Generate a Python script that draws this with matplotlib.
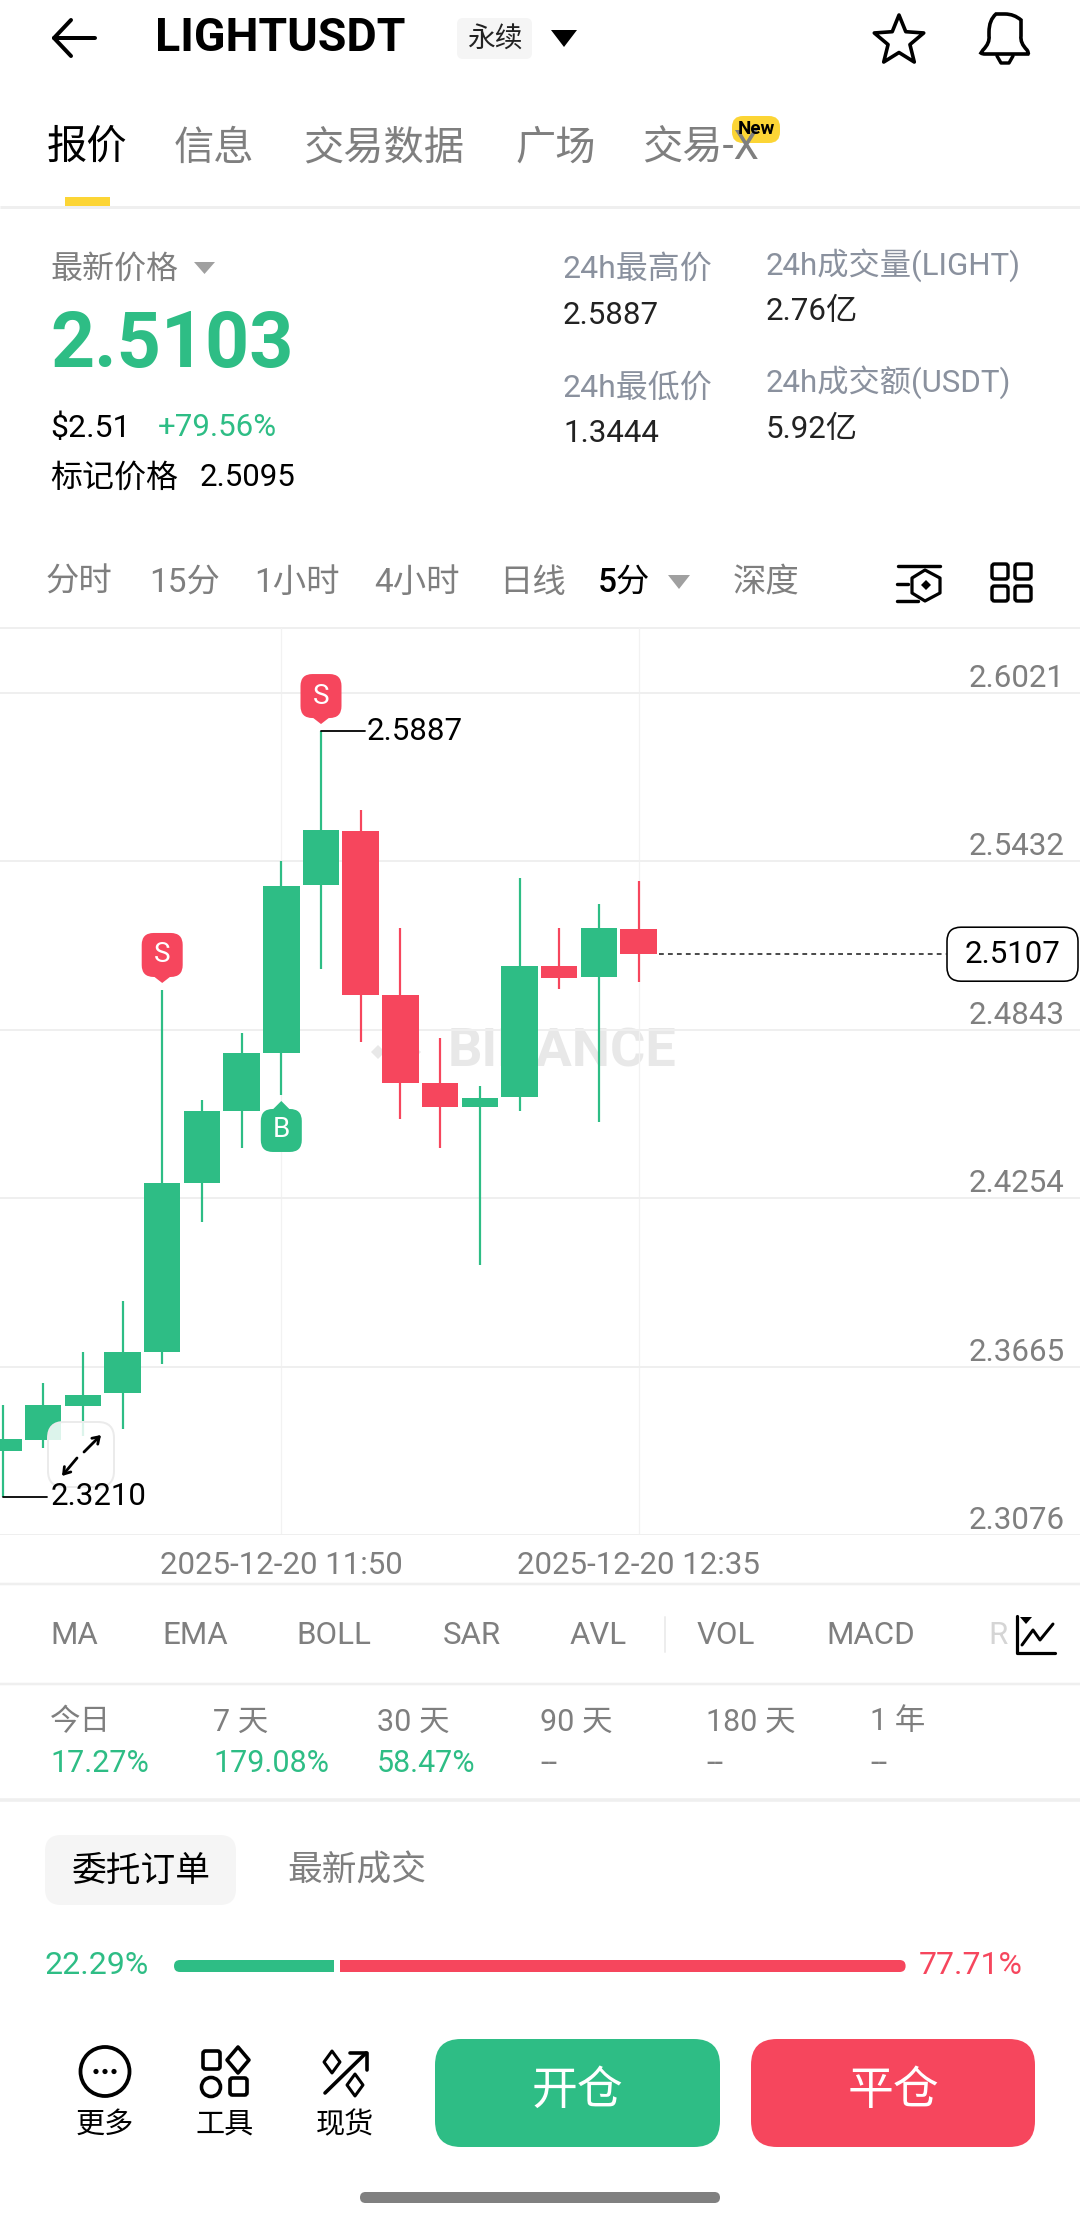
import numpy as np
import matplotlib
matplotlib.use("Agg")
import matplotlib.pyplot as plt
from matplotlib.patches import FancyBboxPatch, Polygon, Circle, Rectangle, PathPatch
from matplotlib.path import Path

# ---------- data ----------
opens  = [2.3369, 2.3409, 2.3529, 2.3572, 2.3718, 2.4308, 2.4560, 2.4763, 2.5349, 2.5538, 2.4963, 2.4657, 2.4572, 2.4607, 2.5067, 2.5027, 2.5196]
highs  = [2.3531, 2.3607, 2.3718, 2.3896, 2.4982, 2.4597, 2.4833, 2.5432, 2.5887, 2.5611, 2.5198, 2.4815, 2.4647, 2.5372, 2.5198, 2.5284, 2.5363]
lows   = [2.3210, 2.3382, 2.3423, 2.3446, 2.3675, 2.4171, 2.4429, 2.4615, 2.5056, 2.4799, 2.4530, 2.4429, 2.4020, 2.4560, 2.4984, 2.4519, 2.5011]
closes = [2.3411, 2.3530, 2.3567, 2.3717, 2.4306, 2.4559, 2.4761, 2.5344, 2.5540, 2.4964, 2.4658, 2.4574, 2.4604, 2.5067, 2.5023, 2.5198, 2.5107]
y_ticks = [2.6021, 2.5432, 2.4843, 2.4254, 2.3665, 2.3076]
x_tick_idx = [7, 16]
x_tick_labels = ["2025-12-20 11:50", "2025-12-20 12:35"]
sell_marks = [4, 8]
buy_marks = [7]
period_labels = ["今日", "7 天", "30 天", "90 天", "180 天", "1 年"]
period_values = ["17.27%", "179.08%", "58.47%", "--", "--", "--"]
indicators = ["MA", "EMA", "BOLL", "SAR", "AVL", "VOL", "MACD"]
buy_ratio, sell_ratio = 22.29, 77.71

GREEN, RED = "#2EBD85", "#F6465D"
GRAY, GRAY2, LINE = "#7F7F7F", "#8A919E", "#EFEFEF"
FONT = ["Roboto", "Noto Sans CJK SC"]
plt.rcParams["font.family"] = FONT

W, H = 1080, 2224
fig = plt.figure(figsize=(W / 100, H / 100), dpi=100, facecolor="white")
PX = 0.72  # points per pixel


def full_axes(z):
    a = fig.add_axes([0, 0, 1, 1], zorder=z)
    a.set_xlim(0, W)
    a.set_ylim(H, 0)
    a.axis("off")
    return a


bg = full_axes(0)
ui = full_axes(2)


def T(x, y, s, size=23, color="black", ha="left", weight="normal", ax=ui, **kw):
    return ax.text(x, y, s, fontsize=size, color=color, ha=ha, va="center", fontweight=weight, **kw)


def RR(x0, y0, x1, y1, r, fc, ec="none", lw=0, ax=ui, **kw):
    p = FancyBboxPatch((x0, y0), x1 - x0, y1 - y0, boxstyle=f"round,pad=0,rounding_size={r}",
                       fc=fc, ec=ec, lw=lw * PX, **kw)
    ax.add_patch(p)
    return p


def PL(xs, ys, lw=3, color="black", ax=ui, **kw):
    ax.plot(xs, ys, color=color, lw=lw * PX, solid_capstyle="round", solid_joinstyle="round", **kw)


def SEP(y, lw=3):
    bg.plot([0, W], [y, y], color=LINE, lw=lw * PX, solid_capstyle="butt")


# ---------- chart ----------
CH_TOP, CH_BOT = 628.0, 1535.3
ax = fig.add_axes([0, 1 - CH_BOT / H, 1, (CH_BOT - CH_TOP) / H], zorder=1)
ax.patch.set_alpha(0)
step = 39.7
x0 = 3.4
ax.set_xlim(-x0 / step, (W - x0) / step)
ppu = (1535.3 - 692.7) / (y_ticks[0] - y_ticks[-1])
ax.set_ylim(y_ticks[-1], y_ticks[0] + (692.7 - CH_TOP) / ppu)
for s in ax.spines.values():
    s.set_visible(False)
ax.yaxis.tick_right()
ax.set_yticks(y_ticks)
ax.set_yticklabels([f"{v:.4f}" for v in y_ticks])
ax.tick_params(axis="y", length=0, pad=-11, labelsize=22.5, labelcolor=GRAY)
for lb in ax.get_yticklabels():
    lb.set_ha("right")
    lb.set_va("bottom")
ax.set_xticks(x_tick_idx)
ax.set_xticklabels(x_tick_labels)
ax.tick_params(axis="x", length=0, pad=11, labelsize=22.5, labelcolor=GRAY)
ax.grid(axis="y", color=LINE, lw=2 * PX)
ax.grid(axis="x", color="#F2F2F2", lw=1.3 * PX)
ax.set_axisbelow(True)

idx = np.arange(len(opens))
o, h, l, c = map(np.array, (opens, highs, lows, closes))
cols = [GREEN if ci >= oi else RED for oi, ci in zip(o, c)]
ax.vlines(idx, l, h, colors=cols, lw=2.2 * PX, zorder=3)
ax.bar(idx, np.abs(c - o), bottom=np.minimum(o, c), width=0.92, color=cols, zorder=4)

fig.canvas.draw()


def to_ui(i, p):
    return ui.transData.inverted().transform(ax.transData.transform((i, p)))


# watermark
T(448, 1052, "BINANCE", size=39, color="#E8E8E8", weight="bold", ax=bg)
for cx, cy, r in [(396, 1052, 10), (378, 1052, 7), (414, 1052, 7), (396, 1032, 7), (396, 1072, 7)]:
    bg.add_patch(Polygon([(cx - r, cy), (cx, cy - r), (cx + r, cy), (cx, cy + r)], fc="#E8E8E8", ec="none"))

# S / B pins
for i in sell_marks:
    px, py = to_ui(i, highs[i])
    ui.add_patch(Polygon([(px - 9, py - 14), (px + 9, py - 14), (px, py - 7)], fc=RED, ec="none", zorder=5))
    RR(px - 20.5, py - 57, px + 20.5, py - 13, 12, RED, zorder=5)
    T(px, py - 35, "S", size=20, color="white", ha="center", zorder=6)
for i in buy_marks:
    px, py = to_ui(i, lows[i])
    ui.add_patch(Polygon([(px - 9, py + 15), (px + 9, py + 15), (px, py + 6)], fc=GREEN, ec="none", zorder=5))
    RR(px - 20.5, py + 14, px + 20.5, py + 57, 12, GREEN, zorder=5)
    T(px, py + 35, "B", size=20, color="white", ha="center", zorder=6)

# extreme labels
ih = int(np.argmax(h))
px, py = to_ui(ih, h[ih])
PL([px, px + 44], [py, py], lw=1.8)
T(px + 46, py, f"{h[ih]:.4f}", size=22.5)
il = int(np.argmin(l))
px, py = to_ui(il, l[il])
PL([px, px + 44], [py, py], lw=1.8)
T(px + 47, py, f"{l[il]:.4f}", size=22.5)

# last price
px, py = to_ui(len(c) - 1, c[-1])
ui.plot([px + 20, 947], [py, py], color="#222222", lw=1.6 * PX, dashes=(3, 2.6))
RR(947, py - 27, 1078, py + 27, 14, "white", ec="black", lw=1.6)
T(1012.5, py, f"{c[-1]:.4f}", size=22.5, ha="center")

# expand button
RR(48, 1422, 114, 1487, 16, (1, 1, 1, 0.84), ec="#EBEBEB", lw=2)
for (a, b) in [((77, 1458), (62, 1476)), ((84, 1452), (101, 1435))]:
    ui.annotate("", xy=b, xytext=a, arrowprops=dict(arrowstyle="->,head_length=0.45,head_width=0.3", lw=2.8 * PX, color="black", shrinkA=0, shrinkB=0))

# ---------- header ----------
PL([54, 95], [38, 38], lw=4)
PL([71, 54, 71], [20, 38, 56], lw=4)
T(155, 38, "LIGHTUSDT", size=33.5, weight="bold")
RR(457, 18, 532, 59, 6, "#F5F5F5")
T(494.5, 39, "永续", size=20, ha="center", color="#222222")
ui.add_patch(Polygon([(551, 30), (577, 30), (564, 47)], fc="black", ec="none"))
ang = np.deg2rad(-90 + 36 * np.arange(10))
rad = np.where(np.arange(10) % 2 == 0, 26, 11.5)
ui.add_patch(Polygon(np.c_[899 + rad * np.cos(ang), 41 + rad * np.sin(ang)], fc="none", ec="black", lw=3.6 * PX, joinstyle="round"))
bell = Path([(983, 50), (990, 43), (989, 36), (989, 32), (989, 20), (996, 14), (1005, 14),
             (1014, 14), (1021, 20), (1021, 32), (1021, 36), (1020, 43), (1027, 50), (1029, 53), (1028, 54), (1025, 54),
             (985, 54), (982, 54), (981, 53), (983, 50)],
            [Path.MOVETO, Path.CURVE3, Path.CURVE3, Path.LINETO, Path.CURVE3, Path.CURVE3, Path.LINETO,
             Path.CURVE3, Path.CURVE3, Path.CURVE3, Path.CURVE3, Path.CURVE3, Path.CURVE3, Path.CURVE3, Path.CURVE3, Path.LINETO,
             Path.LINETO, Path.CURVE3, Path.CURVE3, Path.CLOSEPOLY])
ui.add_patch(PathPatch(bell, fc="none", ec="black", lw=3.6 * PX))
PL([997, 1001, 1009, 1013], [56, 63, 63, 56], lw=3.4)

# tabs
T(47, 148, "报价", size=29, weight="medium")
for x, s in [(174, "信息"), (303, "交易数据"), (515, "广场"), (642, "交易-X")]:
    T(x, 148, s, size=29, color=GRAY)
RR(732, 116, 780, 143, 11, "#FCD535")
T(756, 129.5, "New", size=13.5, ha="center", weight="bold")
bg.add_patch(Rectangle((65, 196.5), 45, 9.5, fc="#FCD535", ec="none", zorder=3))
SEP(206.5)

# price block
T(50, 269, "最新价格", size=23, color=GRAY)
ui.add_patch(Polygon([(194, 262), (215, 262), (204.5, 274)], fc="#A0A0A0", ec="none"))
T(50, 346, "2.5103", size=55.5, color=GREEN, weight="bold")
T(50, 428, "$2.51", size=23)
T(158, 428, "+79.56%", size=22.5, color=GREEN)
T(50, 478, "标记价格", size=23)
T(200, 478, "2.5095", size=22.5)
T(563, 269, "24h最高价", size=23, color=GRAY2)
T(563, 316, "2.5887", size=22.5, color="#222222")
T(563, 387.5, "24h最低价", size=23, color=GRAY2)
T(563, 434, "1.3444", size=22.5, color="#222222")
T(766, 265, "24h成交量(LIGHT)", size=22.5, color=GRAY2)
T(766, 311, "2.76亿", size=22.5, color="#222222")
T(766, 382, "24h成交额(USDT)", size=22.5, color=GRAY2)
T(766, 429, "5.92亿", size=22.5, color="#222222")

# time row
for x, s in [(46, "分时"), (149, "15分"), (254, "1小时"), (374, "4小时"), (499, "日线"), (733, "深度")]:
    T(x, 583, s, size=24, color=GRAY)
T(598, 583, "5分", size=24, weight="medium")
ui.add_patch(Polygon([(668, 575), (690, 575), (679, 589)], fc="#A0A0A0", ec="none"))
PL([898, 940], [566, 566], lw=3.4)
PL([897, 908], [584, 584], lw=3.4)
PL([897, 918], [601, 601], lw=3.4)
ui.add_patch(Polygon([(925, 570), (940, 578), (940, 593), (925, 601), (912, 593), (912, 578)], fc="white", ec="black", lw=3.2 * PX, joinstyle="round"))
ui.add_patch(Polygon([(926, 580), (931, 585), (926, 590), (921, 585)], fc="black", ec="none"))
for rx, ry in [(992, 564), (1015, 564), (992, 586), (1015, 586)]:
    RR(rx, ry, rx + 16, ry + 15, 2.5, "none", ec="black", lw=3.4)
SEP(628, lw=2)

# under-chart lines
SEP(1584, lw=2.5)

# indicators
for x, s in zip([50, 162, 296, 443, 570, 697, 826], indicators):
    T(x, 1636, s, size=22.5, color=GRAY)
T(988, 1636, "R", size=22.5, color="#D5D5D5")
bg.plot([665, 665], [1617, 1652], color="#E8E8E8", lw=1.5 * PX)
ui.add_patch(Rectangle((1004, 1612), 56, 46, fc="white", ec="none", alpha=0.0))
PL([1017, 1017, 1055], [1616, 1653, 1653], lw=3.2)
PL([1022, 1033, 1040, 1053], [1645, 1630, 1640, 1624], lw=3)
ui.add_patch(Polygon([(1020, 1617), (1032, 1617), (1026, 1624)], fc="black", ec="none"))
SEP(1684, lw=2.5)

# periods
for x, a, b in zip([50, 213, 377, 540.5, 706, 870], period_labels, period_values):
    T(x, 1722, a, size=22, color=GRAY)
    T(x, 1764, b, size=22, color=GREEN if b != "--" else GRAY)
SEP(1800, lw=3.5)

# order tabs
RR(45, 1835, 236, 1905, 16, "#F5F5F5")
T(141, 1871, "委托订单", size=25, ha="center", weight="medium")
T(356.5, 1871, "最新成交", size=25, ha="center", color=GRAY)

# ratio bar
T(45, 1966, f"{buy_ratio:.2f}%", size=23, color=GREEN)
T(919, 1966, f"{sell_ratio:.2f}%", size=23, color=RED)
bx0, bx1 = 174.0, 905.6
split = bx0 + (bx1 - bx0) * buy_ratio / (buy_ratio + sell_ratio)
RR(bx0, 1960, bx0 + 30, 1972, 6, GREEN)
ui.add_patch(Rectangle((bx0 + 12, 1960), split - 2.8 - bx0 - 12, 12, fc=GREEN, ec="none"))
RR(bx1 - 30, 1960, bx1, 1972, 6, RED)
ui.add_patch(Rectangle((split + 2.8, 1960), bx1 - 12 - split - 2.8, 12, fc=RED, ec="none"))

# bottom actions
RR(435, 2039, 720, 2147, 26, GREEN)
RR(751, 2039, 1035, 2147, 26, RED)
T(577.5, 2091, "开仓", size=33, color="white", ha="center", weight="medium")
T(893, 2091, "平仓", size=33, color="white", ha="center", weight="medium")
ui.add_patch(Circle((105, 2071.5), 24.5, fc="none", ec="black", lw=3.8 * PX))
for dx in (-9, 0, 9):
    ui.add_patch(Circle((105 + dx, 2071.5), 2.6, fc="black", ec="none"))
RR(203, 2051, 220, 2069, 2.5, "none", ec="black", lw=3.6)
ui.add_patch(Polygon([(238, 2047), (249, 2060), (238, 2073), (227, 2060)], fc="none", ec="black", lw=3.6 * PX, joinstyle="round"))
ui.add_patch(Circle((211, 2087), 9.5, fc="none", ec="black", lw=3.6 * PX))
RR(230, 2078, 247, 2095, 2.5, "none", ec="black", lw=3.6)
PL([325, 366], [2093, 2053], lw=3.6)
PL([350, 367, 367], [2053, 2053, 2070], lw=3.6)
for cx, cy, r in [(332, 2062, 8), (355, 2085, 8)]:
    ui.add_patch(Polygon([(cx, cy - r - 3), (cx + r, cy), (cx, cy + r + 3), (cx - r, cy)], fc="none", ec="black", lw=3 * PX, joinstyle="round"))
for x, s in [(105, "更多"), (224.5, "工具"), (344.5, "现货")]:
    T(x, 2125, s, size=21, ha="center")
RR(360, 2192, 720, 2203, 5.5, "#808080")

fig.savefig("out.png", dpi=100, facecolor="white")
